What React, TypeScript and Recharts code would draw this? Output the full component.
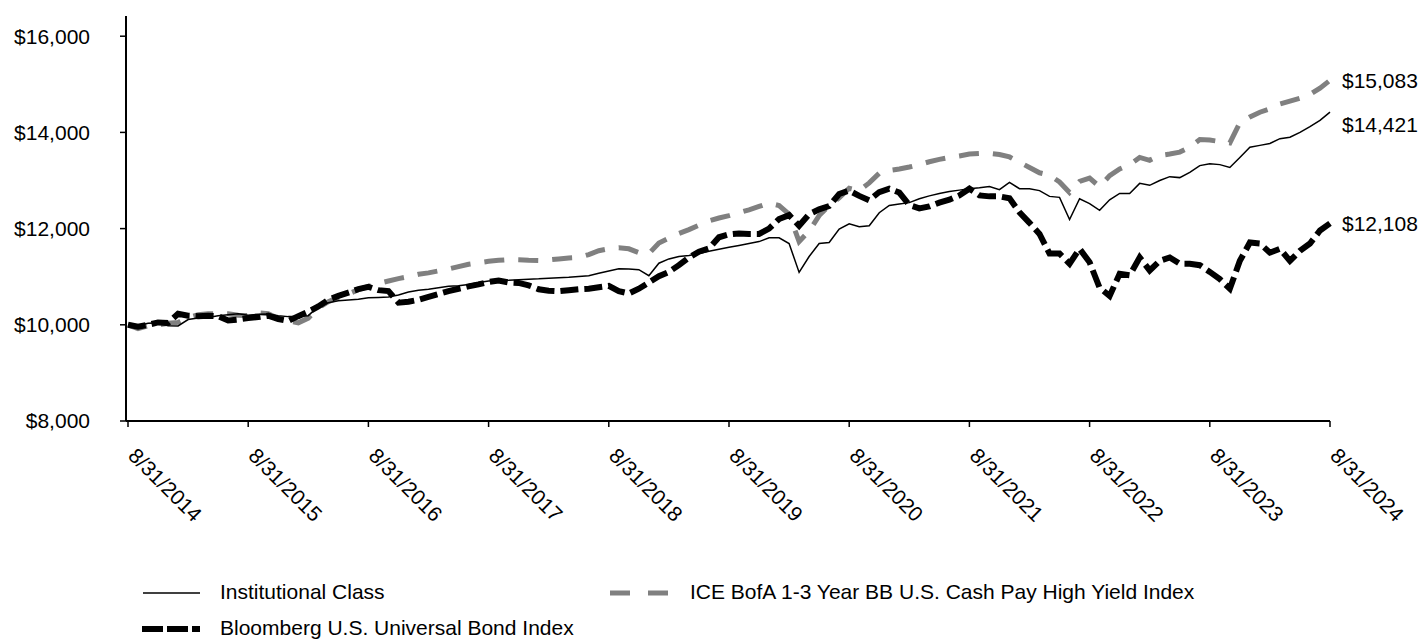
import { CartesianGrid, LabelList, Line, LineChart, XAxis, YAxis } from 'recharts'

// month index 0 = 8/31/2014 ... 120 = 8/31/2024
const tickYears = ['2014', '2015', '2016', '2017', '2018', '2019', '2020', '2021', '2022', '2023', '2024']

const institutional = [
  10000, 9980, 10030, 10040, 9980, 9975, 10110, 10140, 10150, 10190, 10210, 10230,
  10200, 10220, 10225, 10190, 10170, 10175, 10190, 10380, 10460, 10500, 10515, 10530,
  10560, 10570, 10580, 10620, 10680, 10720, 10740, 10770, 10800, 10810, 10840, 10880,
  10910, 10920, 10925, 10935, 10945, 10955, 10970, 10980, 10990, 11005, 11020, 11070,
  11120, 11165, 11160, 11145, 11020, 11280, 11370, 11420, 11440, 11480, 11530, 11570,
  11610, 11650, 11690, 11730, 11810, 11810, 11690, 11090, 11420, 11690, 11710, 11990,
  12100, 12040, 12060, 12330, 12480, 12510, 12540, 12620, 12680, 12730, 12770, 12800,
  12830, 12850, 12875, 12810, 12960, 12830, 12830, 12790, 12670, 12650, 12190, 12620,
  12520, 12380, 12600, 12730, 12730, 12940, 12900, 13000, 13080, 13060, 13170, 13310,
  13350, 13330, 13270, 13480, 13690, 13730, 13770, 13870, 13900, 14000, 14120, 14250,
  14421,
]

const iceBofa = [
  10000, 9920, 9980, 10000, 10030, 10050, 10150, 10210, 10230, 10230, 10230, 10200,
  10190, 10250, 10230, 10130, 10080, 10040, 10140, 10350, 10480, 10570, 10640, 10730,
  10800, 10860, 10910, 10960, 11000, 11050, 11080, 11120, 11160, 11210, 11260, 11290,
  11320, 11340, 11355, 11350, 11340, 11335, 11350, 11370, 11390, 11400, 11460, 11540,
  11580, 11600, 11580, 11500, 11480, 11700, 11800, 11900, 11980, 12070, 12160, 12220,
  12270, 12330, 12390, 12460, 12530, 12480, 12300, 11730, 11950, 12270, 12480, 12640,
  12840, 12790, 12950, 13150, 13210, 13240, 13280, 13330, 13390, 13440, 13480, 13510,
  13550, 13560, 13565, 13540, 13490, 13380, 13270, 13160, 13110, 12970, 12750, 12980,
  13050, 12870, 13100, 13240, 13330, 13480, 13420, 13520, 13550, 13590, 13690, 13850,
  13840, 13810, 13780, 14200, 14320, 14420, 14490, 14590, 14650, 14710, 14790, 14920,
  15083,
]

const bloomberg = [
  10000, 9960, 10000, 10050, 10040, 10230, 10190, 10180, 10190, 10180, 10090, 10110,
  10140, 10160, 10190, 10120, 10080, 10180, 10270, 10380, 10520, 10600, 10670, 10740,
  10790, 10720, 10700, 10460, 10480, 10520, 10580, 10640, 10700, 10750, 10800, 10840,
  10890, 10920, 10880, 10870, 10820, 10740, 10710, 10700, 10720, 10740, 10750, 10780,
  10810, 10700, 10650, 10750, 10880, 11010, 11100, 11240, 11400, 11520, 11590, 11820,
  11880, 11900, 11890, 11890, 12000, 12200, 12280, 12060, 12300, 12400, 12470, 12720,
  12790, 12680, 12590, 12760, 12830, 12750, 12490, 12420, 12460, 12540, 12600, 12690,
  12830, 12690, 12670, 12670, 12630, 12340, 12120, 11890, 11480, 11480, 11270, 11580,
  11300, 10770, 10600, 11060, 11030, 11400, 11130, 11330, 11400, 11270, 11270, 11240,
  11100, 10950, 10750, 11330, 11710, 11690, 11500, 11580, 11330, 11540, 11690, 11960,
  12108,
]

const yTicks = [8000, 10000, 12000, 14000, 16000]
const xTicks = tickYears.map((_, i) => i * 12)

const data = institutional.map((v, i) => ({
  m: i,
  inst: v,
  ice: iceBofa[i],
  bbg: bloomberg[i],
}))

const FONT = 'Arial, "Liberation Sans", sans-serif'
const FS = 21
const GRAY = '#808080'

const money = (v: number) => '$' + v.toLocaleString('en-US')

const DateTick = (props: any) => {
  const { x, y, payload } = props
  const label = '8/31/' + tickYears[Math.round(payload.value / 12)]
  return (
    <g transform={`translate(${x - 1},${y + 28}) rotate(45)`}>
      <text x={0} y={0} textAnchor='start' fontSize={FS} fontFamily={FONT} fill='#000'>
        {label}
      </text>
    </g>
  )
}

const endLabel = (dy: number) => (props: any) => {
  const { x, y, value, index } = props
  if (index !== data.length - 1) return null
  return (
    <text x={x + 12} y={y + dy} dy='0.355em' fontSize={FS} fontFamily={FONT} fill='#000'>
      {money(value)}
    </text>
  )
}

export default function App() {
  return (
    <div
      style={{
        position: 'absolute',
        left: 0,
        top: 0,
        width: 1423,
        height: 639,
        background: '#fff',
        fontFamily: FONT,
      }}
    >
      <LineChart
        width={1423}
        height={560}
        data={data}
        margin={{ top: 16, right: 93, left: 0, bottom: 19 }}
      >
        <CartesianGrid stroke='none' />
        <XAxis
          dataKey='m'
          type='number'
          domain={[0, 120]}
          ticks={xTicks}
          interval={0}
          padding={{ left: 2, right: 0 }}
          height={120}
          tickSize={6}
          axisLine={{ stroke: '#000', strokeWidth: 2 }}
          tickLine={{ stroke: '#000', strokeWidth: 1.5 }}
          tick={<DateTick />}
        />
        <YAxis
          width={126}
          domain={[8000, 16420]}
          ticks={yTicks}
          interval={0}
          tickSize={6}
          tickMargin={30}
          tickFormatter={money}
          axisLine={{ stroke: '#000', strokeWidth: 2 }}
          tickLine={{ stroke: '#000', strokeWidth: 1.5 }}
          tick={{ fill: '#000', fontSize: FS, fontFamily: FONT }}
        />
        <Line
          dataKey='ice'
          stroke={GRAY}
          strokeWidth={5}
          strokeDasharray='20 14'
          dot={false}
          isAnimationActive={false}
        >
          <LabelList dataKey='ice' content={endLabel(0)} />
        </Line>
        <Line
          dataKey='bbg'
          stroke='#000'
          strokeWidth={6}
          strokeDasharray='18 6'
          dot={false}
          isAnimationActive={false}
        >
          <LabelList dataKey='bbg' content={endLabel(0)} />
        </Line>
        <Line
          dataKey='inst'
          stroke='#000'
          strokeWidth={1.5}
          dot={false}
          isAnimationActive={false}
        >
          <LabelList dataKey='inst' content={endLabel(12)} />
        </Line>
      </LineChart>

      {/* legend */}
      <div style={{ position: 'absolute', left: 0, top: 0, fontSize: FS, color: '#000' }}>
        <svg width={1423} height={639} style={{ position: 'absolute', left: 0, top: 0 }}>
          <line x1={143} y1={593} x2={200} y2={593} stroke='#000' strokeWidth={1.5} />
          <line x1={610} y1={593} x2={668} y2={593} stroke={GRAY} strokeWidth={5} strokeDasharray='20 18' />
          <line x1={142} y1={629} x2={200} y2={629} stroke='#000' strokeWidth={6} strokeDasharray='21 4' />
        </svg>
        <span style={{ position: 'absolute', left: 220, top: 580, whiteSpace: 'nowrap' }}>
          Institutional Class
        </span>
        <span style={{ position: 'absolute', left: 690, top: 580, whiteSpace: 'nowrap' }}>
          ICE BofA 1-3 Year BB U.S. Cash Pay High Yield Index
        </span>
        <span style={{ position: 'absolute', left: 220, top: 616, whiteSpace: 'nowrap' }}>
          Bloomberg U.S. Universal Bond Index
        </span>
      </div>
    </div>
  )
}
